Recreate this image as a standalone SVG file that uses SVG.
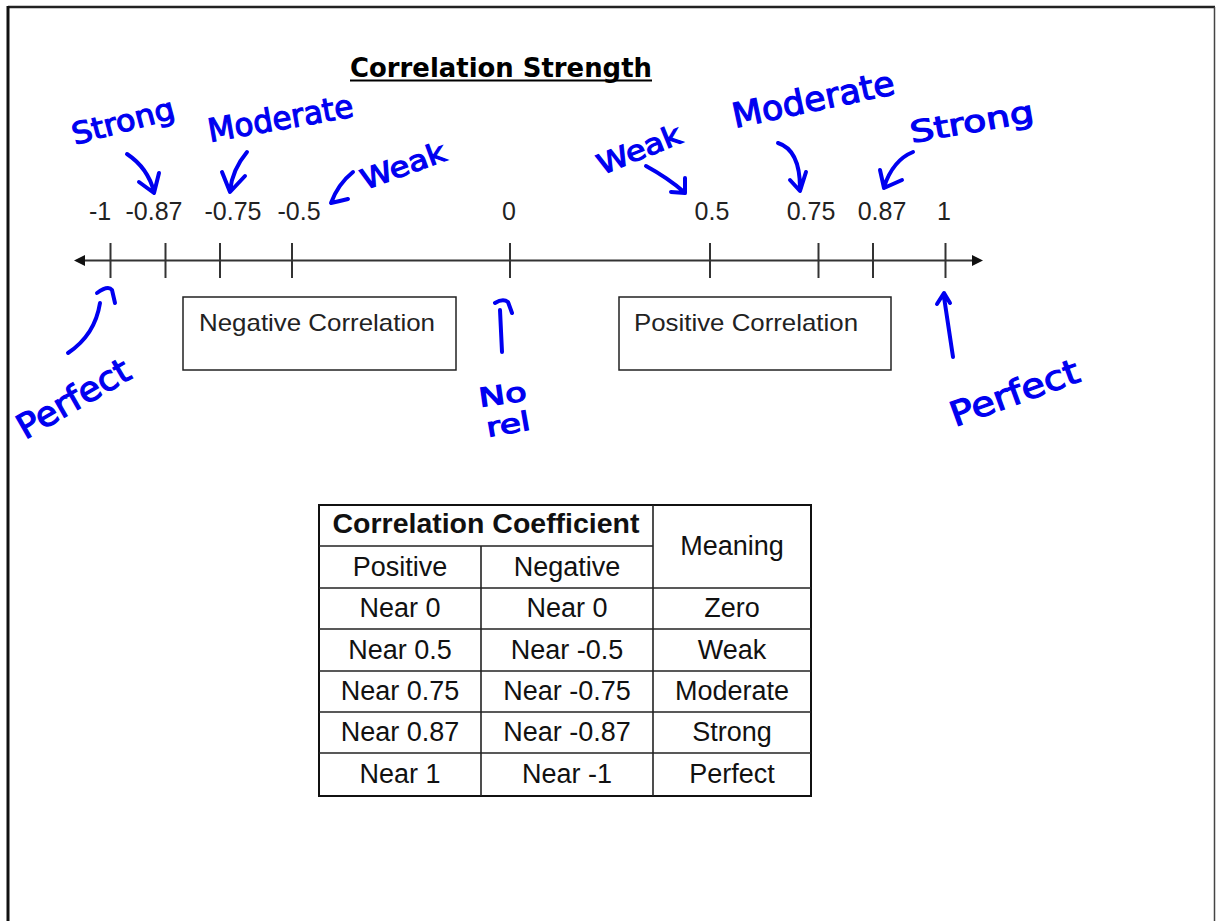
<svg xmlns="http://www.w3.org/2000/svg" width="1216" height="921" viewBox="0 0 1216 921">
<defs>
<style>
.num{font-family:"Liberation Sans",Arial,sans-serif;font-size:25px;fill:#222;text-anchor:middle}
.lbl{font-family:"Liberation Sans",Arial,sans-serif;font-size:24px;fill:#222}
.cell{font-family:"Liberation Sans",Arial,sans-serif;font-size:27px;fill:#111;text-anchor:middle}
.tick{stroke:#333;stroke-width:2}
.grid{stroke:#222;stroke-width:1.6;fill:none}
.hand{font-family:"DejaVu Sans","Noto Sans",sans-serif;fill:#0000f0;stroke:#0000f0;stroke-width:1.2}
.ink{fill:none;stroke:#0000f0;stroke-width:4;stroke-linecap:round;stroke-linejoin:round}
</style>
<marker id="axl" viewBox="0 0 10 10" refX="0" refY="5" markerWidth="12" markerHeight="11" markerUnits="userSpaceOnUse" orient="auto-start-reverse">
<path d="M0,0 L10,5 L0,10 z" fill="#111"/>
</marker>
</defs>
<rect width="1216" height="921" fill="#fff"/>
<g id="page-border">
<line x1="8" y1="7" x2="1215" y2="7" stroke="#222" stroke-width="2.5"/>
<line x1="8" y1="6" x2="8" y2="921" stroke="#111" stroke-width="3"/>
<line x1="1214.5" y1="7" x2="1214.5" y2="921" stroke="#444" stroke-width="1.5"/>
</g>
<g id="title">
<text x="350" y="77" font-family="'Comic Sans MS','DejaVu Sans',sans-serif" font-weight="bold" font-size="27" fill="#000" textLength="302" lengthAdjust="spacingAndGlyphs">Correlation Strength</text>
<line x1="350" y1="80.5" x2="652" y2="80.5" stroke="#000" stroke-width="2"/>
</g>
<g id="connectors">
<line x1="85" y1="260.5" x2="972" y2="260.5" stroke="#333" stroke-width="2" marker-start="url(#axl)" marker-end="url(#axl)"/>
<g class="tick">
<line x1="110.5" y1="243" x2="110.5" y2="278"/>
<line x1="165.5" y1="243" x2="165.5" y2="278"/>
<line x1="220" y1="243" x2="220" y2="278"/>
<line x1="292" y1="243" x2="292" y2="278"/>
<line x1="510" y1="243" x2="510" y2="278"/>
<line x1="710" y1="243" x2="710" y2="278"/>
<line x1="818.5" y1="243" x2="818.5" y2="278"/>
<line x1="873" y1="243" x2="873" y2="278"/>
<line x1="945.5" y1="243" x2="945.5" y2="278"/>
</g>
<path class="ink" d="M127,154 Q148,168 154,192 M139,182 L154,193 L159,173"/>
<path class="ink" d="M247,152 Q232,170 230,191 M222,172 L230,192 L245,176"/>
<path class="ink" d="M353,172 Q338,184 331,203 Q340,201 348,199"/>
<path class="ink" d="M646,166 Q668,178 684,192 M671,192 L685,193 L685,178"/>
<path class="ink" d="M778,143 Q800,150 800,188 M790,180 L800,191 L806,172"/>
<path class="ink" d="M913,152 Q893,160 884,187 M880,170 L884,188 L902,180"/>
<path class="ink" d="M68,353 Q95,335 100,303 M97,293 Q108,285 112,290 L115,303"/>
<path class="ink" d="M502,352 L500,310 M495,303 Q503,298 508,302 L512,313"/>
<path class="ink" d="M953,357 L944,297 M937,304 L944,293 L950,303"/>
</g>
<g id="axis-labels">
<text class="num" x="100" y="220">-1</text>
<text class="num" x="154" y="220">-0.87</text>
<text class="num" x="233" y="220">-0.75</text>
<text class="num" x="299" y="220">-0.5</text>
<text class="num" x="509" y="220">0</text>
<text class="num" x="712" y="220">0.5</text>
<text class="num" x="811" y="220">0.75</text>
<text class="num" x="882" y="220">0.87</text>
<text class="num" x="944" y="220">1</text>
</g>
<g id="negative-correlation">
<rect x="183" y="297" width="273" height="73" fill="#fff" stroke="#222" stroke-width="1.5"/>
<text class="lbl" x="199" y="331" textLength="236" lengthAdjust="spacingAndGlyphs">Negative Correlation</text>
</g>
<g id="positive-correlation">
<rect x="619" y="297" width="272" height="73" fill="#fff" stroke="#222" stroke-width="1.5"/>
<text class="lbl" x="634" y="331" textLength="224" lengthAdjust="spacingAndGlyphs">Positive Correlation</text>
</g>
<g id="annotations">
<text class="hand" font-size="30" transform="translate(75,145) rotate(-15)" textLength="105" lengthAdjust="spacingAndGlyphs">Strong</text>
<text class="hand" font-size="32" transform="translate(210,142) rotate(-10)" textLength="147" lengthAdjust="spacingAndGlyphs" stroke-width="2">Moderate</text>
<text class="hand" font-size="28" transform="translate(365,190) rotate(-20)" textLength="88" lengthAdjust="spacingAndGlyphs">Weak</text>
<text class="hand" font-size="28" transform="translate(602,175) rotate(-22)" textLength="88" lengthAdjust="spacingAndGlyphs" stroke-width="2">Weak</text>
<text class="hand" font-size="34" transform="translate(735,128) rotate(-12)" textLength="165" lengthAdjust="spacingAndGlyphs" stroke-width="2">Moderate</text>
<text class="hand" font-size="30" transform="translate(912,143) rotate(-10)" textLength="125" lengthAdjust="spacingAndGlyphs">Strong</text>
<text class="hand" font-size="34" transform="translate(25,440) rotate(-30)" textLength="125" lengthAdjust="spacingAndGlyphs" stroke-width="2">Perfect</text>
<text class="hand" font-size="26" transform="translate(480,407) rotate(-8)" textLength="48" lengthAdjust="spacingAndGlyphs" stroke-width="2">No</text>
<text class="hand" font-size="26" transform="translate(488,437) rotate(-10)" textLength="44" lengthAdjust="spacingAndGlyphs" stroke-width="2">rel</text>
<text class="hand" font-size="34" transform="translate(955,427) rotate(-20)" textLength="135" lengthAdjust="spacingAndGlyphs">Perfect</text>
</g>
<g id="table">
<rect x="319" y="505" width="492" height="291" fill="#fff" stroke="#111" stroke-width="2"/>
<g class="grid">
<line x1="319" y1="546" x2="653" y2="546"/>
<line x1="319" y1="588" x2="811" y2="588"/>
<line x1="319" y1="629" x2="811" y2="629"/>
<line x1="319" y1="671" x2="811" y2="671"/>
<line x1="319" y1="712" x2="811" y2="712"/>
<line x1="319" y1="753" x2="811" y2="753"/>
<line x1="481" y1="546" x2="481" y2="796"/>
<line x1="653" y1="505" x2="653" y2="796"/>
</g>
<text class="cell" x="486" y="533" font-weight="bold" textLength="307" lengthAdjust="spacingAndGlyphs">Correlation Coefficient</text>
<text class="cell" x="732" y="555">Meaning</text>
<text class="cell" x="400" y="576">Positive</text>
<text class="cell" x="567" y="576">Negative</text>
<text class="cell" x="400" y="617">Near 0</text>
<text class="cell" x="567" y="617">Near 0</text>
<text class="cell" x="732" y="617">Zero</text>
<text class="cell" x="400" y="659">Near 0.5</text>
<text class="cell" x="567" y="659">Near -0.5</text>
<text class="cell" x="732" y="659">Weak</text>
<text class="cell" x="400" y="700">Near 0.75</text>
<text class="cell" x="567" y="700">Near -0.75</text>
<text class="cell" x="732" y="700">Moderate</text>
<text class="cell" x="400" y="741">Near 0.87</text>
<text class="cell" x="567" y="741">Near -0.87</text>
<text class="cell" x="732" y="741">Strong</text>
<text class="cell" x="400" y="783">Near 1</text>
<text class="cell" x="567" y="783">Near -1</text>
<text class="cell" x="732" y="783">Perfect</text>
</g>
</svg>
